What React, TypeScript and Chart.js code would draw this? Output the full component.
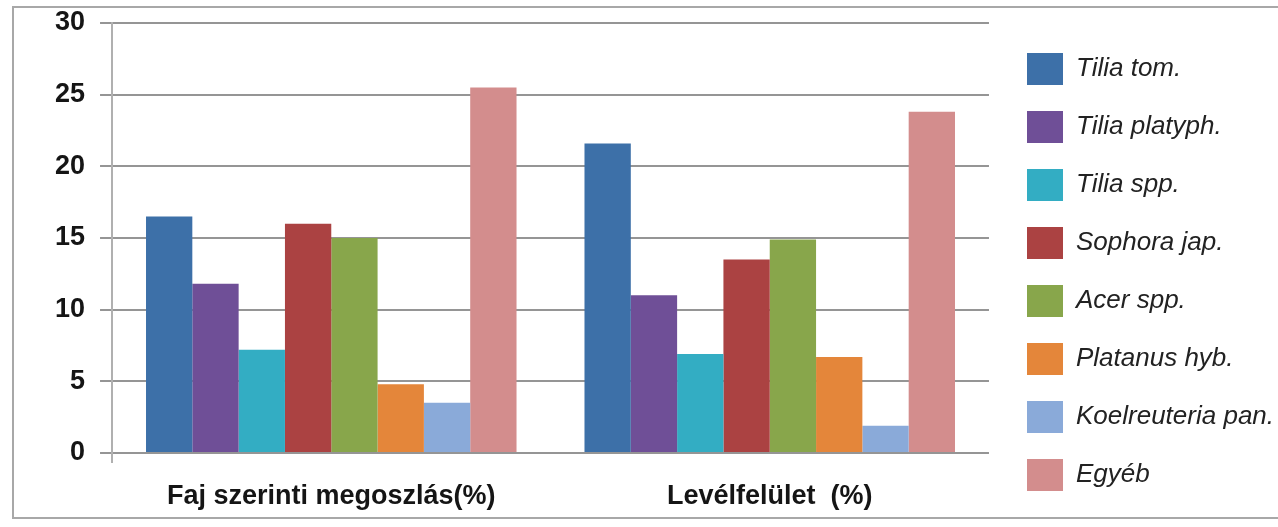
import React, { useEffect, useRef } from "react";
import { Chart, registerables } from "chart.js";

Chart.register(...registerables);

const categories = ["Faj szerinti megoszlás(%)", "Levélfelület  (%)"];
const seriesNames = [
  "Tilia tom.",
  "Tilia platyph.",
  "Tilia spp.",
  "Sophora jap.",
  "Acer spp.",
  "Platanus hyb.",
  "Koelreuteria pan.",
  "Egyéb",
];
const tiliaTom = [16.5, 21.6];
const tiliaPlatyph = [11.8, 11.0];
const tiliaSpp = [7.2, 6.9];
const sophoraJap = [16.0, 13.5];
const acerSpp = [15.0, 14.9];
const platanusHyb = [4.8, 6.7];
const koelreuteriaPan = [3.5, 1.9];
const egyeb = [25.5, 23.8];
const seriesValues = [tiliaTom, tiliaPlatyph, tiliaSpp, sophoraJap, acerSpp, platanusHyb, koelreuteriaPan, egyeb];
const seriesColors = ["#3d70a8", "#6f4f97", "#33adc3", "#ab4242", "#88a64b", "#e4863a", "#8aaad9", "#d38d8d"];
const yTicks = [0, 5, 10, 15, 20, 25, 30];

const LEGEND_BOX_X = 1027;
const LEGEND_BOX_Y = 53;

const legendShift = {
  id: "legendShift",
  afterLayout(chart: any) {
    const lg = chart.legend;
    if (!lg) return;
    const pad = lg.options.labels.padding;
    const dx = LEGEND_BOX_X - (lg.left + pad);
    const dy = LEGEND_BOX_Y - (lg.top + pad);
    lg.left += dx;
    lg.right += dx;
    lg.top += dy;
    lg.bottom += dy;
  },
};

export default function App() {
  const ref = useRef<HTMLCanvasElement | null>(null);

  useEffect(() => {
    if (!ref.current) return;
    const chart = new Chart(ref.current, {
      type: "bar",
      data: {
        labels: categories,
        datasets: seriesNames.map((name, i) => ({
          label: name,
          data: seriesValues[i],
          backgroundColor: seriesColors[i],
          borderWidth: 0,
          categoryPercentage: 0.845,
          barPercentage: 1.0,
        })),
      },
      options: {
        responsive: false,
        animation: false,
        layout: { padding: { left: 40, top: 23, right: 6, bottom: 14 } },
        plugins: {
          tooltip: { enabled: false },
          legend: {
            position: "right",
            align: "start",
            labels: {
              boxWidth: 36,
              boxHeight: 32,
              padding: 26,
              color: "#222",
              font: { family: "'Liberation Sans', Arial, sans-serif", size: 26, style: "italic" },
            },
          },
        },
        scales: {
          x: {
            border: { display: false },
            afterFit: (scale: any) => {
              scale.height = 60;
            },
            grid: {
              display: true,
              drawOnChartArea: false,
              drawTicks: true,
              tickLength: 10,
              lineWidth: 2,
              color: (ctx: any) => (ctx.index === 0 ? "#b0b0b0" : "rgba(0,0,0,0)"),
            },
            ticks: {
              padding: 17,
              maxRotation: 0,
              minRotation: 0,
              autoSkip: false,
              color: "#151515",
              font: { family: "'Liberation Sans', Arial, sans-serif", size: 27, weight: "bold" },
            },
          },
          y: {
            min: 0,
            max: 30,
            afterBuildTicks: (scale: any) => {
              scale.ticks = yTicks.map((v) => ({ value: v }));
            },
            afterFit: (scale: any) => {
              scale.paddingTop = 0;
              scale.paddingBottom = 0;
            },
            border: { display: true, color: "#b0b0b0", width: 2 },
            grid: {
              color: "#959595",
              lineWidth: 2,
              tickLength: 12,
              drawTicks: true,
            },
            ticks: {
              padding: 15,
              color: "#151515",
              font: { family: "'Liberation Sans', Arial, sans-serif", size: 27, weight: "bold" },
            },
          },
        },
      },
      plugins: [legendShift],
    });
    return () => chart.destroy();
  }, []);

  return (
    <div style={{ position: "fixed", left: 0, top: 0, width: 1278, height: 527, background: "#fff", overflow: "hidden" }}>
      <div
        style={{
          position: "absolute",
          left: 12,
          top: 6,
          width: 1290,
          height: 513,
          border: "2px solid #a8a8a8",
          boxSizing: "border-box",
        }}
      />
      <canvas ref={ref} width={1278} height={527} style={{ position: "absolute", left: 0, top: 0 }} />
    </div>
  );
}
